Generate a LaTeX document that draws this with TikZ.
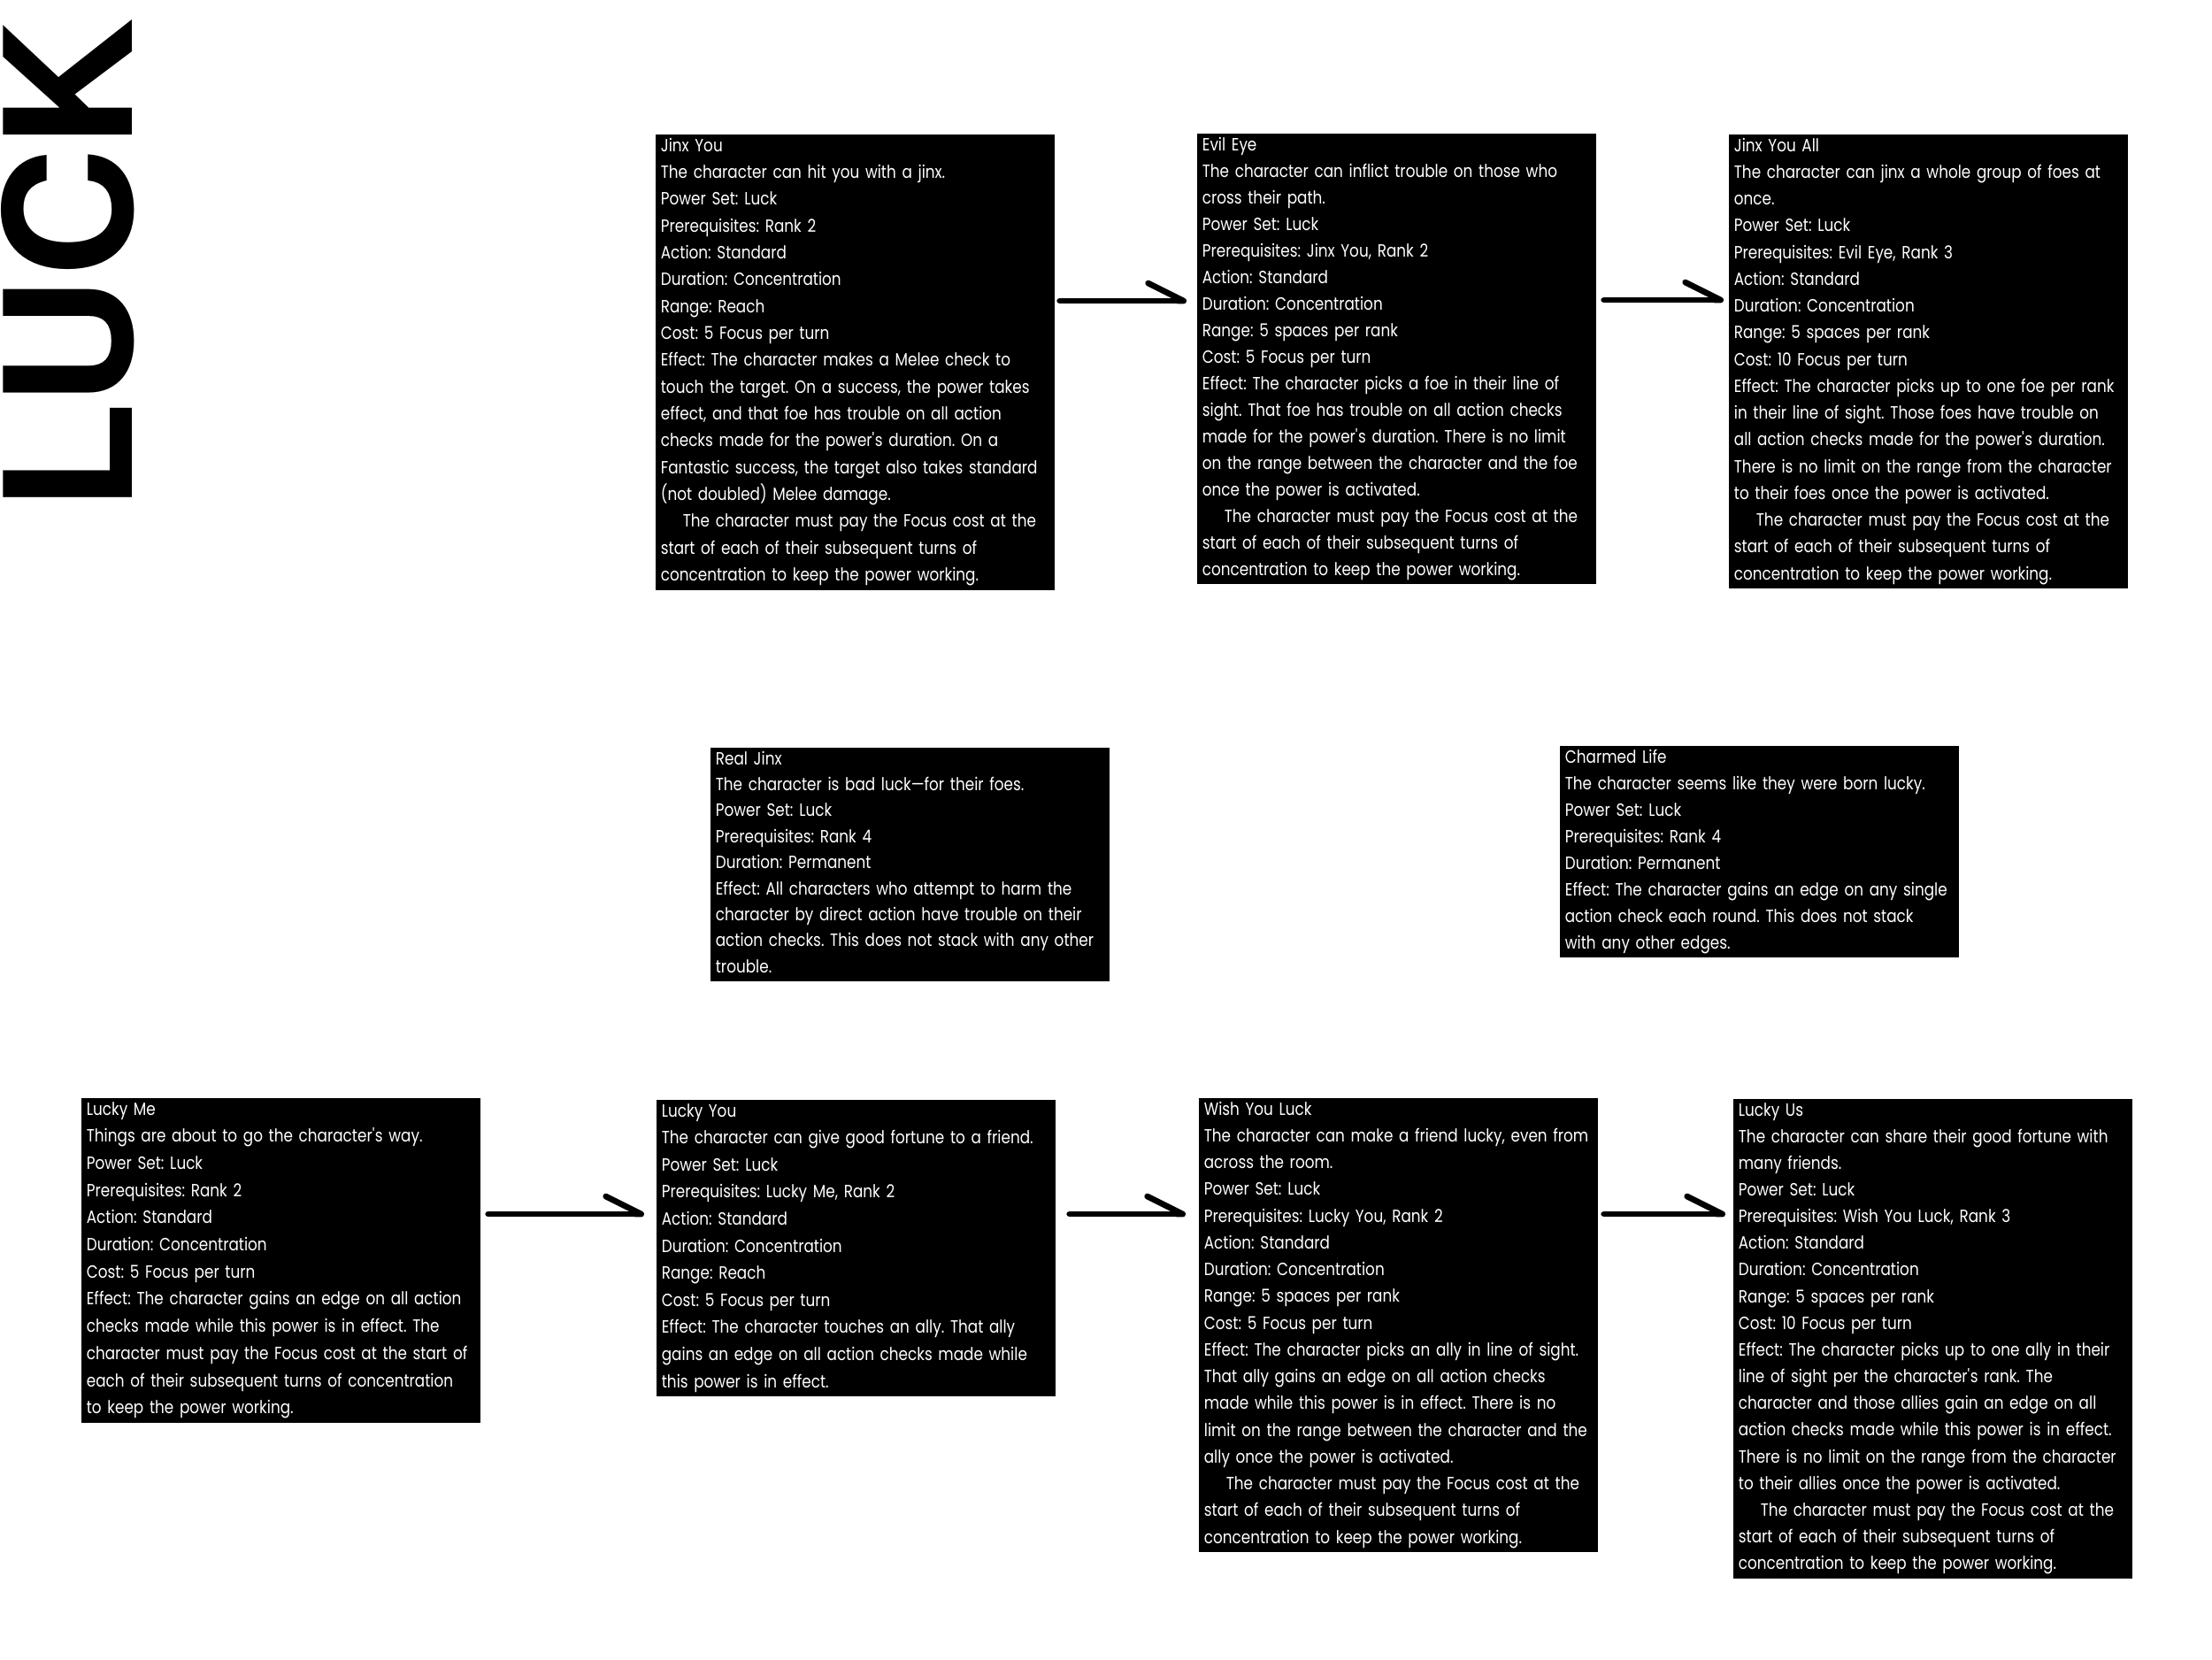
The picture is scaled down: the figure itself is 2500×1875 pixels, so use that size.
\documentclass[tikz,border=0pt]{standalone}
\usepackage{fontspec}
\usepackage{graphicx}
\setmainfont[FakeStretch=0.84]{Poppins}
\newfontfamily\luckfont{TeX Gyre Heros}
\usetikzlibrary{arrows.meta}
\newcommand\cardfont[1]{\fontsize{11.4pt}{#1}\selectfont\frenchspacing}
\newcommand\cardstrut{\rule[-2mm]{0pt}{5.74mm}}
\newcommand\cardind{\hspace*{5mm}}
\newcommand\apo{\textquotesingle}
\begin{document}
\begin{tikzpicture}[x=0.2mm,y=-0.2mm,
  card/.style={fill=black,text=white,anchor=north west,inner xsep=1.1mm,inner ysep=0pt,text width=88mm,align=left,font=\cardfont{#1}},
  card/.default=6mm,
  arr/.style={line width=1.34mm,line cap=round,-{Straight Barb[harpoon,length=8mm,width=8mm,round]},shorten <=2mm,shorten >=2.4mm}]
\useasboundingbox (0,0) rectangle (2500,1875);
\node[rotate=90,inner sep=0pt] (T) at (77,300) {\resizebox{111.3mm}{29.6mm}{\luckfont\bfseries LUCK}};
\node[card=6.07mm] (JY) at (741,152) {\cardstrut Jinx You\\
The character can hit you with a jinx.\\
Power Set: Luck\\
Prerequisites: Rank 2\\
Action: Standard\\
Duration: Concentration\\
Range: Reach\\
Cost: 5 Focus per turn\\
Effect: The character makes a Melee check to\\
touch the target. On a success, the power takes\\
effect, and that foe has trouble on all action\\
checks made for the power\apo s duration. On a\\
Fantastic success, the target also takes standard\\
(not doubled) Melee damage.\\
\cardind The character must pay the Focus cost at the\\
start of each of their subsequent turns of\\
concentration to keep the power working.\cardstrut};
\node[card=6mm] (EE) at (1353,151) {\cardstrut Evil Eye\\
The character can inflict trouble on those who\\
cross their path.\\
Power Set: Luck\\
Prerequisites: Jinx You, Rank 2\\
Action: Standard\\
Duration: Concentration\\
Range: 5 spaces per rank\\
Cost: 5 Focus per turn\\
Effect: The character picks a foe in their line of\\
sight. That foe has trouble on all action checks\\
made for the power\apo s duration. There is no limit\\
on the range between the character and the foe\\
once the power is activated.\\
\cardind The character must pay the Focus cost at the\\
start of each of their subsequent turns of\\
concentration to keep the power working.\cardstrut};
\node[card=6.05mm] (JA) at (1954,152) {\cardstrut Jinx You All\\
The character can jinx a whole group of foes at\\
once.\\
Power Set: Luck\\
Prerequisites: Evil Eye, Rank 3\\
Action: Standard\\
Duration: Concentration\\
Range: 5 spaces per rank\\
Cost: 10 Focus per turn\\
Effect: The character picks up to one foe per rank\\
in their line of sight. Those foes have trouble on\\
all action checks made for the power\apo s duration.\\
There is no limit on the range from the character\\
to their foes once the power is activated.\\
\cardind The character must pay the Focus cost at the\\
start of each of their subsequent turns of\\
concentration to keep the power working.\cardstrut};
\node[card=5.88mm] (RJ) at (803,845) {\cardstrut Real Jinx\\
The character is bad luck—for their foes.\\
Power Set: Luck\\
Prerequisites: Rank 4\\
Duration: Permanent\\
Effect: All characters who attempt to harm the\\
character by direct action have trouble on their\\
action checks. This does not stack with any other\\
trouble.\cardstrut};
\node[card=6mm] (CL) at (1763,843) {\cardstrut Charmed Life\\
The character seems like they were born lucky.\\
Power Set: Luck\\
Prerequisites: Rank 4\\
Duration: Permanent\\
Effect: The character gains an edge on any single\\
action check each round. This does not stack\\
with any other edges.\cardstrut};
\node[card=6.14mm] (LM) at (92,1241) {\cardstrut Lucky Me\\
Things are about to go the character\apo s way.\\
Power Set: Luck\\
Prerequisites: Rank 2\\
Action: Standard\\
Duration: Concentration\\
Cost: 5 Focus per turn\\
Effect: The character gains an edge on all action\\
checks made while this power is in effect. The\\
character must pay the Focus cost at the start of\\
each of their subsequent turns of concentration\\
to keep the power working.\cardstrut};
\node[card=6.12mm] (LY) at (742,1243) {\cardstrut Lucky You\\
The character can give good fortune to a friend.\\
Power Set: Luck\\
Prerequisites: Lucky Me, Rank 2\\
Action: Standard\\
Duration: Concentration\\
Range: Reach\\
Cost: 5 Focus per turn\\
Effect: The character touches an ally. That ally\\
gains an edge on all action checks made while\\
this power is in effect.\cardstrut};
\node[card=6.05mm] (WL) at (1355,1241) {\cardstrut Wish You Luck\\
The character can make a friend lucky, even from\\
across the room.\\
Power Set: Luck\\
Prerequisites: Lucky You, Rank 2\\
Action: Standard\\
Duration: Concentration\\
Range: 5 spaces per rank\\
Cost: 5 Focus per turn\\
Effect: The character picks an ally in line of sight.\\
That ally gains an edge on all action checks\\
made while this power is in effect. There is no\\
limit on the range between the character and the\\
ally once the power is activated.\\
\cardind The character must pay the Focus cost at the\\
start of each of their subsequent turns of\\
concentration to keep the power working.\cardstrut};
\node[card=6.03mm] (LU) at (1959,1242) {\cardstrut Lucky Us\\
The character can share their good fortune with\\
many friends.\\
Power Set: Luck\\
Prerequisites: Wish You Luck, Rank 3\\
Action: Standard\\
Duration: Concentration\\
Range: 5 spaces per rank\\
Cost: 10 Focus per turn\\
Effect: The character picks up to one ally in their\\
line of sight per the character\apo s rank. The\\
character and those allies gain an edge on all\\
action checks made while this power is in effect.\\
There is no limit on the range from the character\\
to their allies once the power is activated.\\
\cardind The character must pay the Focus cost at the\\
start of each of their subsequent turns of\\
concentration to keep the power working.\cardstrut};
\draw[arr,shorten <=1mm] ([yshift=-37.6mm]JY.north east) -- ([yshift=-37.6mm]JY.north east -| EE.west);
\draw[arr,shorten <=1.6mm,shorten >=1.2mm] ([yshift=-37.6mm]EE.north east) -- ([yshift=-37.6mm]EE.north east -| JA.west);
\draw[arr,shorten <=1.6mm,shorten >=2.8mm] ([yshift=-26.2mm]LM.north east) -- ([yshift=-26.2mm]LM.north east -| LY.west);
\draw[arr,shorten <=3mm,shorten >=3mm] ([yshift=-25.8mm]LY.north east) -- ([yshift=-25.8mm]LY.north east -| WL.west);
\draw[arr,shorten <=1.2mm,shorten >=1.8mm] ([yshift=-26.2mm]WL.north east) -- ([yshift=-26.2mm]WL.north east -| LU.west);
\end{tikzpicture}
\end{document}
